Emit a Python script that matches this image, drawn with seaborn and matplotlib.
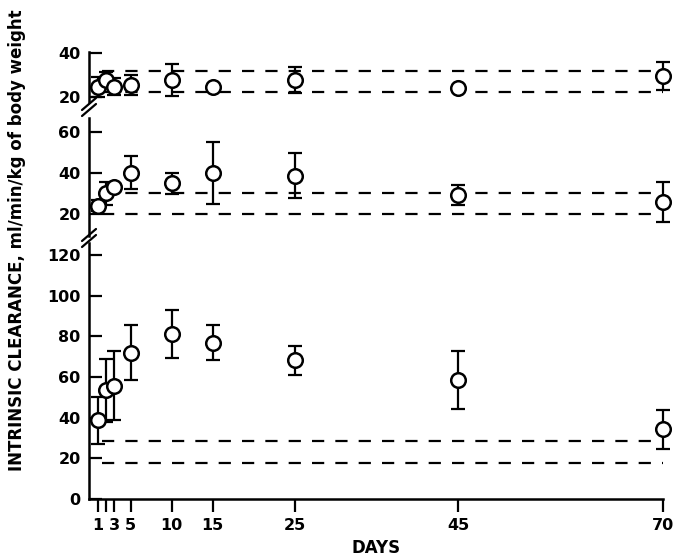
import seaborn as sns
import matplotlib.pyplot as plt
import matplotlib.lines as mlines
import numpy as np

days = [1, 2, 3, 5, 10, 15, 25, 45, 70]
tick_days = [1, 2, 3, 5, 10, 15, 25, 45, 70]
tick_labels = ["1", "", "3", "5", "10", "15", "25", "45", "70"]

# top panel
top_mean = [24.6, 27.7, 24.6, 25.4, 27.7, 24.6, 27.7, 23.9, 29.5]
top_err = [4.6, 3.5, 4.0, 4.7, 7.5, 0.0, 6.0, 0.0, 6.5]
top_band = [22.3, 31.8]

# middle panel
mid_mean = [24.2, 30.2, 33.4, 40.2, 35.0, 39.9, 38.7, 29.3, 26.1]
mid_err = [2.5, 5.5, 0.0, 8.0, 5.0, 15.0, 11.0, 5.0, 9.7]
mid_band = [20.1, 30.5]

# bottom panel
bot_mean = [38.7, 53.6, 55.7, 72.0, 81.2, 76.9, 68.2, 58.5, 34.3]
bot_err = [11.5, 15.5, 17.0, 13.5, 12.0, 8.5, 7.2, 14.3, 9.7]
bot_band = [17.9, 28.5]

sns.set_style("ticks", {"axes.edgecolor": "black", "text.color": "black",
                        "axes.labelcolor": "black", "xtick.color": "black",
                        "ytick.color": "black"})
plt.rcParams['font.family'] = ['DejaVu Sans']

fig = plt.figure(figsize=(6.74, 5.58), dpi=100)
W, H = 674, 558
left, right = 89, 663


def px_axes(top, bottom):
    return fig.add_axes([left / W, (H - bottom) / H, (right - left) / W, (bottom - top) / H])


ax_top = px_axes(52, 102)
ax_mid = px_axes(118, 236)
ax_bot = px_axes(243, 499)

panels = [
    (ax_top, top_mean, top_err, top_band, (17.6, 40.6), [20, 40]),
    (ax_mid, mid_mean, mid_err, mid_band, (9.5, 66.6), [20, 40, 60]),
    (ax_bot, bot_mean, bot_err, bot_band, (0, 126), [0, 20, 40, 60, 80, 100, 120]),
]

for ax, mean, err, band, ylim, yt in panels:
    for b in band:
        ax.hlines(b, 1.5, 70, colors="black", linewidth=1.6, linestyles=(0, (5.5, 5)))
    ax.errorbar(days, mean, yerr=err, fmt="none", ecolor="black", elinewidth=1.6,
                capsize=4.8, capthick=1.6, clip_on=False, zorder=3)
    sns.scatterplot(x=days, y=mean, ax=ax, s=110, facecolor="white", edgecolor="black",
                    linewidth=1.8, zorder=4, clip_on=False)
    ax.set_xlim(-0.1, 70)
    ax.set_ylim(*ylim)
    ax.set_yticks(yt)
    ax.set_yticklabels([str(v) for v in yt], fontweight="bold", fontsize=11.5)
    ax.tick_params(axis="y", direction="in", length=9, width=1.6, pad=6)
    sns.despine(ax=ax)
    ax.spines["left"].set_linewidth(1.8)
    if ax is not ax_bot:
        ax.spines["bottom"].set_visible(False)
        ax.set_xticks([])
    ax.patch.set_alpha(0)

ax_bot.spines["bottom"].set_linewidth(1.8)
ax_bot.set_xticks(tick_days)
ax_bot.set_xticklabels(tick_labels, fontweight="bold", fontsize=11.5)
ax_bot.tick_params(axis="x", direction="out", length=9, width=1.6, pad=5)
ax_bot.set_xlabel("DAYS", fontweight="bold", fontsize=12, labelpad=4)

fig.text(17 / W, (H - 240) / H, "INTRINSIC CLEARANCE, ml/min/kg of body weight", rotation=90,
         ha="center", va="center", fontsize=12, fontweight="bold")

# axis break marks
for yc in (107, 238):
    for dy in (-3, 3):
        x0, y0, x1, y1 = left - 7, yc + dy + 6, left + 7, yc + dy - 6
        fig.add_artist(mlines.Line2D([x0 / W, x1 / W], [(H - y0) / H, (H - y1) / H],
                                     color="black", linewidth=1.6))

fig.savefig("out.png", dpi=100)
